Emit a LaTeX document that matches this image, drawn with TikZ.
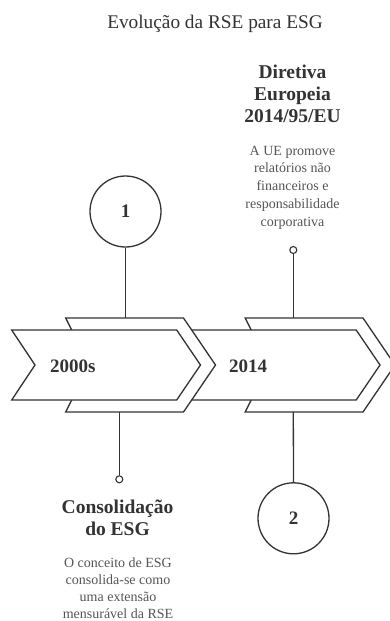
\documentclass[tikz,border=0pt]{standalone}
\usepackage{fontspec}
\setmainfont{Liberation Serif}
\definecolor{ink}{HTML}{333333}
\definecolor{soft}{HTML}{555555}
\begin{document}
\begin{tikzpicture}[x=1pt,y=-1pt,
  edge/.style={draw=ink,line width=1.3pt},
  chev/.style={edge,fill=white,line join=miter},
  bigcirc/.style={circle,edge,fill=white,minimum size=71pt,inner sep=0pt,font=\bfseries\fontsize{19}{22}\selectfont,text=ink},
  dot/.style={circle,edge,line width=1.1pt,fill=white,minimum size=7pt,inner sep=0pt},
  head/.style={align=center,inner sep=0pt,anchor=base,text=ink,font=\bfseries\fontsize{19.5}{22}\selectfont},
  desc/.style={align=center,inner sep=0pt,anchor=base,text=soft,font=\fontsize{14}{17.75}\selectfont},
  year/.style={anchor=base west,inner sep=0pt,text=ink,font=\bfseries\fontsize{19}{22}\selectfont}]
\useasboundingbox[fill=white] (0,0) rectangle (390,621);

\node[anchor=base,inner sep=0pt,text=ink,font=\fontsize{19.3}{22}\selectfont] (title) at (215,28) {Evolução da RSE para ESG};

% circles and dots
\node[bigcirc] (c1) at (125.5,211.5) {1};
\node[bigcirc] (c2) at (293.5,518.3) {2};
\node[dot] (d1) at (119.3,479.3) {};
\node[dot] (d2) at (293.3,250) {};

\coordinate (t1) at (125.5,318);
\coordinate (b1) at (119.3,412);
\coordinate (t2) at (293.3,318);
\coordinate (b2) at (293.3,412);

\draw[edge] (c1.south) -- (t1);
\draw[edge] (b1) -- (d1.north);
\draw[edge] (d2.south) -- (t2);
\draw[edge] (b2) -- (c2.north);

% chevrons: second first, then first over it
\foreach \dx in {179.5,0}{
  \draw[chev] (65.7+\dx,318) -- (183.5+\dx,318) -- (215.5+\dx,365) -- (183.5+\dx,412) -- (65.7+\dx,412) -- (89+\dx,365) -- cycle;
  \draw[chev] (11.7+\dx,330) -- (176.7+\dx,330) -- (200.5+\dx,365) -- (176.7+\dx,400) -- (11.7+\dx,400) -- (35+\dx,365) -- cycle;
}
\node[year] (y1) at (50,372.5) {2000s};
\node[year] (y2) at (229,372.5) {2014};

% texts (multi-line nodes: base anchor = last line's baseline)
\node[head] (h2) at (292.5,122) {Diretiva\\Europeia\\2014/95/EU};
\node[desc] (p2) at (292.5,226) {A UE promove\\relatórios não\\financeiros e\\responsabilidade\\corporativa};
\node[head] (h1) at (117.5,535) {Consolidação\\do ESG};
\node[desc,font=\fontsize{14}{17}\selectfont] (p1) at (118,618) {O conceito de ESG\\consolida-se como\\uma extensão\\mensurável da RSE};
\end{tikzpicture}
\end{document}
